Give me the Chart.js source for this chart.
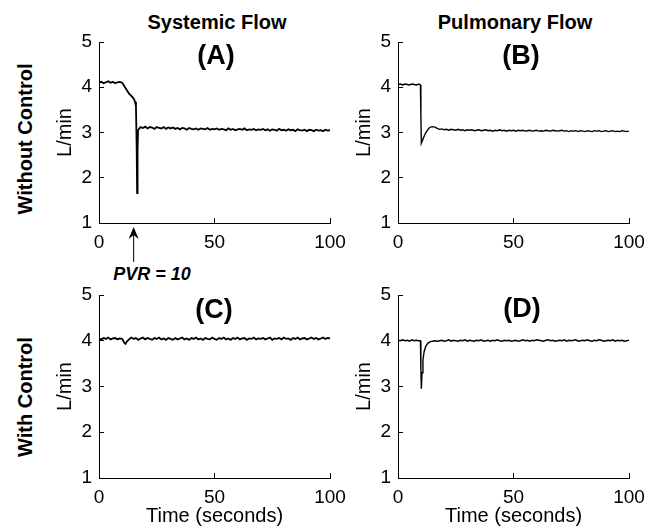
<!DOCTYPE html>
<html>
<head>
<meta charset="utf-8">
<script src="https://cdn.jsdelivr.net/npm/chart.js@4.4.0/dist/chart.umd.min.js"></script>
<style>
  body { margin: 0; background: #fff; }
  #wrap { position: relative; width: 661px; height: 529px; font-family: "Liberation Sans", Arial, sans-serif; color: #000; }
  canvas { position: absolute; }
  .lbl { position: absolute; white-space: nowrap; transform: translate(-50%, -50%); }
  .head { font-weight: bold; font-size: 20px; }
  .tag { font-weight: bold; font-size: 27px; }
  .side { font-weight: bold; font-size: 20px; transform: translate(-50%, -50%) rotate(-90deg); }
  .pvr { font-weight: bold; font-style: italic; font-size: 18px; }
</style>
</head>
<body>
<div id="wrap">
  <div class="lbl head" style="left:217px;top:22px">Systemic Flow</div>
  <div class="lbl head" style="left:515px;top:22px">Pulmonary Flow</div>
  <div class="lbl side" style="left:25px;top:139px">Without Control</div>
  <div class="lbl side" style="left:25px;top:397px">With Control</div>
  <div class="lbl pvr" style="left:152px;top:274px">PVR = 10</div>

  <canvas id="chartA" width="311" height="241" style="left:39px;top:27px"></canvas>
  <canvas id="chartB" width="311" height="241" style="left:338px;top:27px"></canvas>
  <canvas id="chartC" width="311" height="248" style="left:39px;top:280px"></canvas>
  <canvas id="chartD" width="311" height="248" style="left:338px;top:280px"></canvas>

  <div class="lbl tag" style="left:216px;top:55px">(A)</div>
  <div class="lbl tag" style="left:521px;top:55px">(B)</div>
  <div class="lbl tag" style="left:214px;top:309px">(C)</div>
  <div class="lbl tag" style="left:522px;top:308px">(D)</div>
</div>
<script>
// sampling grid helper (times only)
function range(a, b) {
  let out = [];
  for (let t = a; t <= b; t++) out.push(t);
  return out;
}

const yTicks = [1, 2, 3, 4, 5];
const xTicks = [0, 50, 100];
const pvrTime = 15;

// (A) systemic flow, without control
const timeA = [...range(0, 15), 15.6, 16, 16.3, 16.5, 16.7, 16.9, 17.5, ...range(18, 100)];
const flowA = [
  4.10, 4.12, 4.09, 4.11, 4.13, 4.10, 4.12, 4.09, 4.11, 4.12, 4.10,
  4.02, 3.94, 3.86, 3.81, 3.75,
  3.68, 3.58, 2.70, 1.66, 2.60, 3.05, 3.09,
  3.12, 3.10, 3.13, 3.09, 3.12, 3.11, 3.08, 3.12, 3.10, 3.09, 3.12, 3.08, 3.11,
  3.09, 3.11, 3.08, 3.10, 3.07, 3.10, 3.09, 3.06, 3.10, 3.08, 3.07, 3.09, 3.06, 3.09, 3.08, 3.07, 3.10, 3.06, 3.08, 3.07,
  3.09, 3.06, 3.08, 3.07, 3.05, 3.09, 3.06, 3.08, 3.05, 3.07, 3.08, 3.06, 3.09, 3.05, 3.07, 3.06, 3.08, 3.05, 3.07, 3.06,
  3.08, 3.05, 3.07, 3.04, 3.07, 3.06, 3.04, 3.08, 3.05, 3.06, 3.04, 3.07, 3.05, 3.06, 3.03, 3.07, 3.05, 3.04, 3.06, 3.03,
  3.06, 3.05, 3.03, 3.06, 3.04, 3.05, 3.03, 3.06, 3.04, 3.05
];

// (B) pulmonary flow, without control
const timeB = [...range(0, 9), 9.7, 9.9, 10.1, 10.5, 11, 11.5, 12, 12.5, 13, 13.5, 14, 15, 16, 17, ...range(18, 100)];
const flowB = [
  4.06, 4.07, 4.05, 4.07, 4.06, 4.05, 4.07, 4.06, 4.05, 4.07,
  4.05, 3.40, 2.76, 2.81, 2.88, 2.94, 2.99, 3.03, 3.07, 3.10, 3.12, 3.13, 3.12, 3.09,
  3.07, 3.08, 3.06, 3.07, 3.05, 3.07, 3.06, 3.05, 3.07, 3.05, 3.06, 3.04, 3.06,
  3.05, 3.06, 3.04, 3.05, 3.06, 3.04, 3.05, 3.06, 3.04, 3.05, 3.03, 3.05, 3.04, 3.06, 3.04, 3.05, 3.03, 3.05, 3.04, 3.05,
  3.03, 3.05, 3.04, 3.05, 3.03, 3.04, 3.05, 3.03, 3.04, 3.05, 3.03, 3.04, 3.03, 3.05, 3.04, 3.03, 3.05, 3.04, 3.03, 3.04,
  3.05, 3.03, 3.04, 3.02, 3.04, 3.03, 3.04, 3.02, 3.04, 3.03, 3.02, 3.04, 3.03, 3.02, 3.04, 3.03, 3.04, 3.02, 3.03, 3.04,
  3.02, 3.03, 3.04, 3.02, 3.03, 3.02, 3.04, 3.03, 3.02, 3.03
];

// (C) systemic flow, with control
const timeC = [...range(0, 10), 10.5, 11, 11.5, 12, ...range(13, 100)];
const flowC = [
  4.05, 4.03, 4.06, 4.04, 4.07, 4.03, 4.05, 4.06, 4.03, 4.05, 4.04,
  4.00, 3.95, 3.93, 3.98,
  4.03, 4.07, 4.04, 4.06, 4.02, 4.05, 4.07, 4.03, 4.06, 4.04, 4.02, 4.06, 4.04, 4.07, 4.03, 4.05, 4.02, 4.06,
  4.04, 4.02, 4.06, 4.03, 4.05, 4.07, 4.03, 4.05, 4.02, 4.06, 4.04, 4.07, 4.03, 4.05, 4.02, 4.06, 4.04, 4.03, 4.07, 4.04,
  4.02, 4.06, 4.04, 4.07, 4.03, 4.05, 4.02, 4.06, 4.04, 4.07, 4.03, 4.05, 4.06, 4.02, 4.05, 4.04, 4.07, 4.03, 4.05, 4.04,
  4.06, 4.03, 4.05, 4.07, 4.02, 4.05, 4.04, 4.06, 4.03, 4.07, 4.04, 4.05, 4.02, 4.06, 4.04, 4.07, 4.03, 4.05, 4.06, 4.03,
  4.05, 4.07, 4.04, 4.06, 4.03, 4.05, 4.07, 4.04, 4.06, 4.05
];

// (D) pulmonary flow, with control
const timeD = [...range(0, 9), 9.7, 9.9, 10.1, 10.4, 10.8, 11.3, 12, 13, 14, 15, 16, 17, ...range(18, 100)];
const flowD = [
  4.01, 4.00, 4.02, 4.00, 4.01, 3.99, 4.02, 4.00, 4.01, 4.00,
  4.00, 3.40, 2.95, 3.30, 3.58, 3.76, 3.88, 3.95, 3.98, 3.99, 4.00, 3.99,
  4.00, 4.01, 3.99, 4.00, 4.02, 3.99, 4.01, 4.00, 3.99, 4.01, 4.00, 4.02, 3.99,
  4.01, 4.00, 3.99, 4.01, 4.00, 4.02, 3.99, 4.00, 4.01, 3.99, 4.01, 4.00, 4.02, 4.00, 3.99, 4.01, 4.00, 4.01, 3.99, 4.00,
  4.01, 3.99, 4.00, 4.02, 4.00, 4.01, 3.99, 4.01, 4.00, 4.02, 4.01, 4.00, 3.99, 4.01, 4.02, 4.00, 4.01, 3.99, 4.00, 4.01,
  4.00, 4.02, 3.99, 4.01, 4.00, 4.01, 4.02, 3.99, 4.00, 4.01, 4.00, 4.02, 4.00, 3.99, 4.01, 4.00, 4.02, 4.01, 3.99, 4.00,
  4.01, 4.00, 4.02, 3.99, 4.01, 4.00, 4.01, 3.99, 4.00, 4.01
];

const fontFamily = '"Liberation Sans", Arial, sans-serif';

// arrow under panel A marking the PVR step
const pvrArrow = {
  id: "pvrArrow",
  afterDraw(chart) {
    const ctx = chart.ctx;
    const px = chart.scales.x.getPixelForValue(pvrTime);
    const top = chart.chartArea.bottom + 4;
    const bot = chart.chartArea.bottom + 39;
    ctx.save();
    ctx.strokeStyle = "#000";
    ctx.fillStyle = "#000";
    ctx.lineWidth = 1;
    ctx.beginPath();
    ctx.moveTo(px, top + 6);
    ctx.lineTo(px, bot);
    ctx.stroke();
    ctx.beginPath();
    ctx.moveTo(px, top);
    ctx.lineTo(px - 5, top + 12);
    ctx.lineTo(px, top + 8);
    ctx.lineTo(px + 5, top + 12);
    ctx.closePath();
    ctx.fill();
    ctx.restore();
  },
};

// scale label paddings would push the plot area in; layout padding handles it instead
function noScalePadding(s) {
  s.paddingTop = 0;
  s.paddingBottom = 0;
  s.paddingLeft = 0;
  s.paddingRight = 0;
}

function makePanel(id, times, values, withTimeTitle, lineWidth, plugins) {
  if (times.length != values.length) console.warn(id, times.length, values.length);
  let pts = times.map((t, i) => ({ x: t, y: values[i] }));
  let ctx = document.getElementById(id).getContext("2d");
  return new Chart(ctx, {
    type: "scatter",
    data: {
      datasets: [
        {
          data: pts,
          showLine: true,
          borderColor: "#000",
          borderWidth: lineWidth,
          pointRadius: 0,
          tension: 0,
        },
      ],
    },
    plugins: plugins || [],
    options: {
      responsive: false,
      animation: false,
      layout: { padding: { top: 15, right: 20, left: 0, bottom: 0 } },
      plugins: { legend: { display: false }, tooltip: { enabled: false } },
      scales: {
        x: {
          type: "linear",
          min: 0,
          max: 100,
          afterBuildTicks: (s) => { s.ticks = xTicks.map((v) => ({ value: v })); },
          afterFit: (s) => {
            s.height = withTimeTitle ? 50 : 45;
            noScalePadding(s);
          },
          border: { display: true, color: "#000", width: 1 },
          grid: { drawOnChartArea: false, drawTicks: true, tickLength: -5, color: "#000" },
          ticks: { color: "#000", padding: 13, maxRotation: 0, font: { family: fontFamily, size: 19 } },
          title: {
            display: withTimeTitle,
            text: "Time (seconds)",
            color: "#000",
            padding: { top: 0, bottom: 0 },
            font: { family: fontFamily, size: 20 },
          },
        },
        y: {
          type: "linear",
          min: 1,
          max: 5,
          afterBuildTicks: (s) => { s.ticks = yTicks.map((v) => ({ value: v })); },
          afterFit: (s) => {
            s.width = 60;
            noScalePadding(s);
          },
          border: { display: true, color: "#000", width: 1 },
          grid: { drawOnChartArea: false, drawTicks: true, tickLength: -5, color: "#000" },
          ticks: { color: "#000", padding: 12, font: { family: fontFamily, size: 19 } },
          title: {
            display: true,
            text: "L/min",
            color: "#000",
            padding: { top: 14, bottom: 0 },
            font: { family: fontFamily, size: 20 },
          },
        },
      },
    },
  });
}

makePanel("chartA", timeA, flowA, false, 1.8, [pvrArrow]);
makePanel("chartB", timeB, flowB, false, 1.4);
makePanel("chartC", timeC, flowC, true, 1.8);
makePanel("chartD", timeD, flowD, true, 1.4);
</script>
</body>
</html>
